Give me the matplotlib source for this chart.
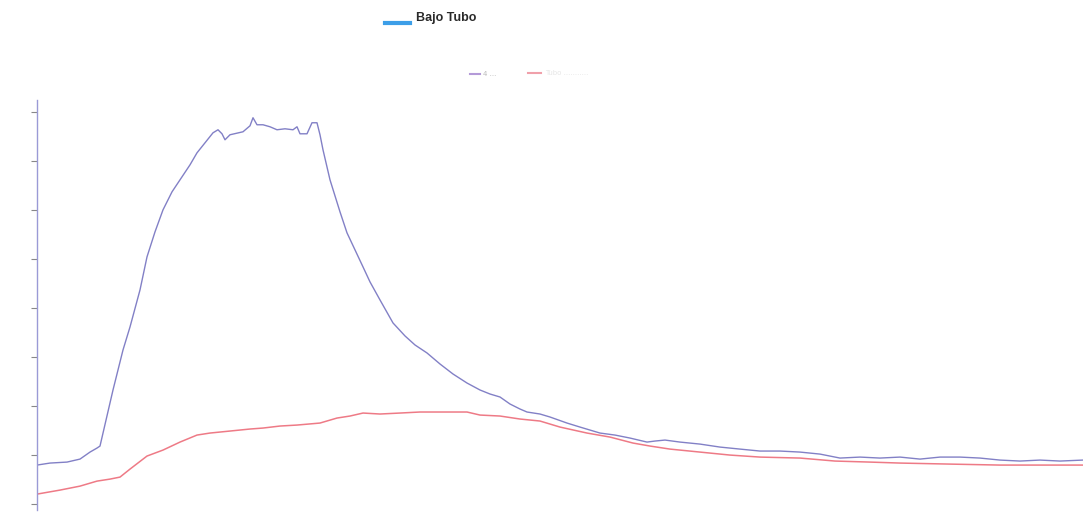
import matplotlib
matplotlib.use("Agg")
import matplotlib.pyplot as plt
from matplotlib.lines import Line2D

# series (time, value)
t_azul = [0, 13, 30, 43, 53, 60, 63, 76, 86, 93, 103, 110, 118, 126, 135, 143, 153, 160, 168, 176,
          181, 185, 188, 193, 206, 213, 216, 220, 226, 233, 240, 248, 256, 260, 263, 270, 275, 280,
          283, 286, 293, 303, 310, 318, 326, 333, 343, 356, 368, 378, 390, 403, 416, 430, 443, 453,
          463, 473, 483, 490, 503, 513, 530, 543, 553, 563, 578, 593, 610, 618, 628, 643, 663, 683,
          703, 723, 743, 763, 783, 803, 823, 843, 863, 883, 903, 923, 943, 963, 983, 1003, 1023, 1046]
v_azul = [7.96, 8.37, 8.57, 9.18, 10.61, 11.43, 11.84, 23.27, 31.43, 36.12, 43.67, 50.41, 55.51, 60.0,
          63.67, 66.12, 69.18, 71.63, 73.67, 75.71, 76.33, 75.51, 74.29, 75.31, 75.92, 77.14, 78.78,
          77.35, 77.35, 76.94, 76.33, 76.53, 76.33, 76.94, 75.51, 75.51, 77.76, 77.76, 75.31, 72.24,
          66.12, 59.59, 55.31, 51.84, 48.37, 45.31, 41.63, 36.94, 34.29, 32.45, 30.82, 28.57, 26.53,
          24.69, 23.27, 22.45, 21.84, 20.41, 19.39, 18.78, 18.37, 17.76, 16.53, 15.71, 15.10, 14.49,
          14.08, 13.47, 12.65, 12.86, 13.06, 12.65, 12.24, 11.63, 11.22, 10.82, 10.82, 10.61, 10.20,
          9.39, 9.59, 9.39, 9.59, 9.18, 9.59, 9.59, 9.39, 8.98, 8.78, 8.98, 8.78, 8.98]

t_rojo = [0, 23, 43, 60, 73, 83, 93, 110, 126, 143, 160, 173, 193, 213, 226, 243, 260, 283, 300, 313,
          326, 343, 363, 383, 403, 430, 443, 463, 483, 503, 523, 550, 573, 596, 613, 633, 663, 693,
          723, 763, 798, 833, 863, 913, 963, 1003, 1046]
v_rojo = [2.04, 2.86, 3.67, 4.69, 5.10, 5.51, 7.14, 9.80, 11.02, 12.65, 14.08, 14.49, 14.90, 15.31,
          15.51, 15.92, 16.12, 16.53, 17.55, 17.96, 18.57, 18.37, 18.57, 18.78, 18.78, 18.78, 18.16,
          17.96, 17.35, 16.94, 15.71, 14.49, 13.67, 12.45, 11.84, 11.22, 10.61, 10.0, 9.59, 9.39,
          8.78, 8.57, 8.37, 8.16, 7.96, 7.96, 7.96]

y_ticks = [0, 10, 20, 30, 40, 50, 60, 70, 80]

fig = plt.figure(figsize=(10.86, 5.28), dpi=100)
ax = fig.add_axes([37/1086, 18/528, 1046/1086, 410/528])

ax.plot(t_azul, v_azul, color="#8280c6", lw=1.0)
ax.plot(t_rojo, v_rojo, color="#ee7a86", lw=1.1)

ax.set_xlim(0, 1046)
ax.set_ylim(-1.2, 82.4)
ax.set_yticks(y_ticks)
ax.set_yticklabels([])
ax.set_xticks([])
for s in ["top", "right", "bottom"]:
    ax.spines[s].set_visible(False)
ax.spines["left"].set_color("#9a9ad6")
ax.spines["left"].set_linewidth(1.0)
ax.tick_params(axis="y", direction="out", length=4, width=0.8, color="#888888")

# top legend
fig.add_artist(Line2D([385/1086, 410/1086], [1 - 23/528, 1 - 23/528], color="#3c9ee8", lw=3))
fig.text(416/1086, 1 - 18/528, "Bajo Tubo", fontsize=9, family="Liberation Sans",
         fontweight="bold", va="center", ha="left", color="#2a2a2a")

# faint second legend
fig.add_artist(Line2D([470/1086, 480/1086], [1 - 74/528, 1 - 74/528], color="#b49ad8", lw=1.5))
fig.text(483/1086, 1 - 74/528, "4 ...", fontsize=5, va="center", ha="left", color="#bbbbbb")
fig.add_artist(Line2D([528/1086, 541/1086], [1 - 73/528, 1 - 73/528], color="#f0a0aa", lw=1.5))
fig.text(545/1086, 1 - 73/528, "Tubo ...........", fontsize=5, va="center", ha="left", color="#e6e6e6")

fig.savefig("out.png", dpi=100)
